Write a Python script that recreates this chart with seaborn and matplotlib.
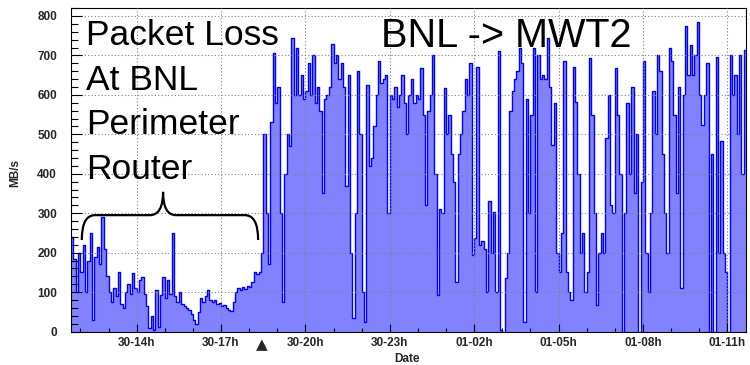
import numpy as np
import pandas as pd
import seaborn as sns
import matplotlib
matplotlib.use("Agg")
from matplotlib import pyplot as plt
from matplotlib.path import Path
from matplotlib.patches import PathPatch
from matplotlib.ticker import MultipleLocator

# transfer rate BNL -> MWT2 in MB/s, 5 minute bins starting at 30-11:40
rate_afternoon = [
    240, 185, 100, 200,
    150, 220, 100, 180, 249, 30, 190, 215, 170, 291, 210, 140,   # 12h
    100, 75, 110, 90, 150, 70, 60, 100, 120, 95, 148, 110,       # 13h
    100, 130, 139, 95, 65, 10, 40, 5, 105, 12, 93, 139,          # 14h
    85, 131, 95, 249, 90, 75, 101, 70, 65, 60, 55, 45,           # 15h
    30, 18, 50, 85, 75, 90, 105, 80, 75, 80, 70, 72,             # 16h
    65, 68, 60, 55, 52, 75, 100, 110, 105, 112, 108, 115,        # 17h
]
rate_evening = [
    112, 125, 150, 145, 150, 200, 500, 300, 170, 530, 705, 580,  # 18h
    620, 300, 75, 400, 500, 470, 745, 600, 720, 600, 650, 590,   # 19h
    610, 680, 600, 700, 580, 620, 560, 350, 590, 600, 620, 730,  # 20h
    680, 700, 640, 680, 620, 370, 650, 200, 33, 300, 660, 500,   # 21h
    100, 25, 625, 420, 440, 520, 600, 685, 630, 640, 650, 300,   # 22h
    600, 590, 620, 570, 600, 650, 580, 500, 600, 640, 580, 600,  # 23h
]
rate_night = [
    590, 668, 550, 321, 560, 600, 702, 400, 93, 310, 300, 617,   # 00h
    500, 550, 450, 380, 126, 450, 500, 560, 640, 600, 680, 195,  # 01h
    236, 670, 220, 230, 210, 100, 330, 200, 304, 100, 710, 5,    # 02h
    0, 135, 200, 560, 610, 640, 660, 718, 680, 25, 590, 300,     # 03h
    550, 720, 100, 700, 640, 650, 640, 744, 620, 473, 580, 200,  # 04h
    150, 250, 685, 150, 100, 80, 670, 583, 400, 200, 250, 100,   # 05h
]
rate_morning = [
    150, 693, 550, 300, 67, 200, 250, 200, 490, 600, 321, 300,   # 06h
    668, 550, 400, 0, 300, 580, 400, 620, 350, 500, 0, 380,      # 07h
    685, 200, 100, 300, 609, 500, 700, 660, 450, 300, 200, 720,  # 08h
    685, 550, 350, 620, 110, 600, 774, 650, 727, 650, 700, 786,  # 09h
    600, 524, 600, 680, 0, 450, 0, 697, 200, 482, 200, 150,      # 10h
    0, 700, 600, 650, 500, 700, 400, 714,                        # 11h
]

start_hour = 11 + 40 / 60
tick_hours = [14, 17, 20, 23, 26, 29, 32, 35]
tick_labels = ["30-14h", "30-17h", "30-20h", "30-23h", "01-02h", "01-05h", "01-08h", "01-11h"]
note_lines = ["Packet Loss", "At BNL", "Perimeter", "Router"]
title_text = "BNL -> MWT2"

rates = rate_afternoon + rate_evening + rate_night + rate_morning
hours = start_hour + np.arange(len(rates) + 1) / 12
df = pd.DataFrame({"hour": hours, "rate": rates + [rates[-1]]})

sns.set_theme(style="white")
plt.rcParams["font.family"] = ["Liberation Sans", "DejaVu Sans"]

fig = plt.figure(figsize=(7.5, 3.65), dpi=100)
ax = fig.add_axes([71 / 750, 1 - 331.5 / 365, 675 / 750, 324 / 365])

ax.fill_between(df["hour"], df["rate"], step="post", color="#8282ff", lw=0, zorder=1)
sns.lineplot(data=df, x="hour", y="rate", drawstyle="steps-post", color="#0000ff",
             linewidth=1, ax=ax, zorder=2)

ax.set_xlim(start_hour, start_hour + 24)
ax.set_ylim(0, 821.5)
ax.set_xticks(tick_hours)
ax.set_xticklabels(tick_labels)
ax.xaxis.set_minor_locator(MultipleLocator(1))
ax.yaxis.set_major_locator(MultipleLocator(100))
ax.yaxis.set_minor_locator(MultipleLocator(20))

ax.tick_params(axis="both", which="both", direction="in", color="black",
               labelsize=8.5, bottom=True, left=True)
ax.tick_params(axis="y", which="major", length=8, width=0.8, pad=10)
ax.tick_params(axis="y", which="minor", length=5, width=0.8)
ax.tick_params(axis="x", which="major", length=6, width=0.8, pad=4)
ax.tick_params(axis="x", which="minor", length=3, width=0.8)
for lab in ax.get_xticklabels() + ax.get_yticklabels():
    lab.set_fontweight("bold")

ax.set_axisbelow(False)
ax.grid(True, which="major", linestyle=(0, (1, 2)), color="#808080", linewidth=0.8)
for sp in ax.spines.values():
    sp.set_color("black")
    sp.set_linewidth(0.8)

ax.set_xlabel("Date", fontsize=8.5, fontweight="bold")
ax.set_ylabel("MB/s", fontsize=8.5, fontweight="bold")
ax.xaxis.set_label_coords(0.498, -0.066)
ax.yaxis.set_label_coords(-0.074, 0.49)

# annotation text
for i, line in enumerate(note_lines):
    fig.text(86 / 750, 1 - (45 + 44.5 * i) / 365, line, fontsize=25.5,
             ha="left", va="baseline", color="black")
fig.text(506 / 750, 1 - 47 / 365, title_text, fontsize=28.5,
         ha="center", va="baseline", color="black")

# curly brace over the packet loss period
brace = Path(
    [(12.05, 232), (12.05, 295), (12.52, 295), (14.47, 295), (14.94, 295), (14.94, 354),
     (14.94, 295), (15.40, 295), (17.85, 295), (18.32, 295), (18.32, 232)],
    [Path.MOVETO, Path.CURVE3, Path.CURVE3, Path.LINETO, Path.CURVE3, Path.CURVE3,
     Path.CURVE3, Path.CURVE3, Path.LINETO, Path.CURVE3, Path.CURVE3],
)
ax.add_patch(PathPatch(brace, fill=False, color="black", lw=1.6, zorder=5, clip_on=False))

ax.text(18.46, -0.042, "\u25b2", transform=ax.get_xaxis_transform(), ha="center",
        va="center", fontsize=11, family=["DejaVu Sans"], clip_on=False)

plt.savefig("out.png", dpi=100)
